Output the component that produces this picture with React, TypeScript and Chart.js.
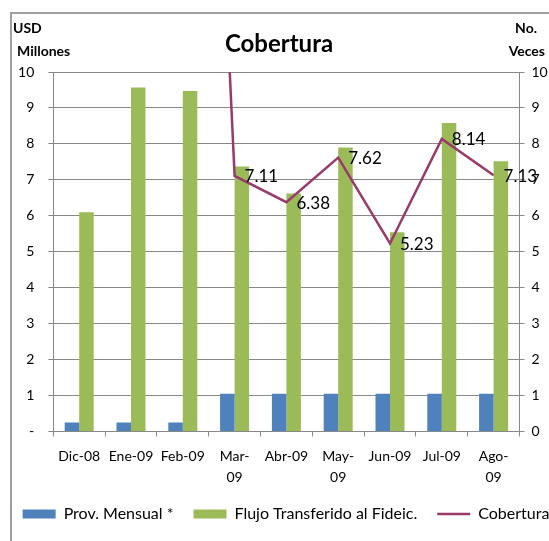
import { useEffect, useRef } from 'react';
import { Chart, registerables } from 'chart.js';
Chart.register(...registerables);

const categories: (string | string[])[] = ['Dic-08', 'Ene-09', 'Feb-09', ['Mar-', '09'], 'Abr-09', ['May-', '09'], 'Jun-09', 'Jul-09', ['Ago-', '09']];
const provMensual = [0.25, 0.25, 0.25, 1.05, 1.05, 1.05, 1.05, 1.05, 1.05];
const flujo = [6.1, 9.57, 9.47, 7.37, 6.62, 7.9, 5.54, 8.58, 7.52];
const cobertura = [24.4, 38.3, 37.9, 7.11, 6.38, 7.62, 5.23, 8.14, 7.13];
const seriesNames = ['Prov. Mensual *', 'Flujo Transferido al Fideic.', 'Cobertura'];
const titleText = 'Cobertura';
const leftAxisTitle = ['USD', 'Millones'];
const rightAxisTitle = ['No.', 'Veces'];

const BLUE = '#4F81BD';
const GREEN = '#9BBB59';
const PLUM = '#993A68';
const GRID = '#888888';
const FONT = 'Lato';

const headerPlugin = {
  id: 'headers',
  afterDraw(chart: any) {
    const ctx = chart.ctx;
    ctx.save();
    ctx.fillStyle = '#000';
    ctx.textBaseline = 'middle';
    ctx.font = `bold 24px ${FONT}`;
    ctx.textAlign = 'center';
    ctx.fillText(titleText, 279, 44);
    ctx.font = `bold 14px ${FONT}`;
    ctx.textAlign = 'left';
    ctx.fillText(leftAxisTitle[0], 13, 28);
    ctx.fillText(leftAxisTitle[1], 17, 51);
    ctx.textAlign = 'right';
    ctx.fillText(rightAxisTitle[0], 537, 28);
    ctx.fillText(rightAxisTitle[1], 545, 51);
    ctx.restore();
  },
};

const labelPlugin = {
  id: 'pointLabels',
  afterDraw(chart: any) {
    const meta = chart.getDatasetMeta(2);
    const yScale = chart.scales.y1;
    const ctx = chart.ctx;
    ctx.save();
    ctx.font = `17px ${FONT}`;
    ctx.fillStyle = '#000';
    ctx.textAlign = 'left';
    ctx.textBaseline = 'middle';
    meta.data.forEach((pt: any, i: number) => {
      const v = cobertura[i];
      if (v > yScale.max) return;
      ctx.fillText(v.toFixed(2), pt.x + 10, pt.y + 1);
    });
    ctx.restore();
  },
};

export default function App() {
  const ref = useRef<HTMLCanvasElement>(null);
  useEffect(() => {
    const canvas = ref.current!;
    const chart = new Chart(canvas, {
      type: 'bar',
      data: {
        labels: categories,
        datasets: [
          { type: 'bar', label: seriesNames[0], data: provMensual, backgroundColor: BLUE, yAxisID: 'y', order: 1, categoryPercentage: 0.56, barPercentage: 1 },
          { type: 'bar', label: seriesNames[1], data: flujo, backgroundColor: GREEN, yAxisID: 'y', order: 1, categoryPercentage: 0.56, barPercentage: 1 },
          { type: 'line', label: seriesNames[2], data: cobertura, borderColor: PLUM, backgroundColor: PLUM, borderWidth: 2.5, pointRadius: 0, tension: 0, yAxisID: 'y1', order: 0 },
        ] as any,
      },
      options: {
        responsive: false,
        animation: false,
        devicePixelRatio: 1,
        layout: { padding: { top: 72, bottom: 9, left: 0, right: 0 } },
        plugins: {
          title: { display: false },
          tooltip: { enabled: false },
          legend: {
            position: 'bottom',
            labels: {
              font: { family: FONT, size: 16 },
              color: '#000',
              usePointStyle: true,
              pointStyleWidth: 33,
              boxHeight: 9,
              padding: 20,
              generateLabels: () => [
                { text: seriesNames[0], fillStyle: BLUE, strokeStyle: BLUE, lineWidth: 0, pointStyle: 'rect', datasetIndex: 0, hidden: false, fontColor: '#000' },
                { text: seriesNames[1], fillStyle: GREEN, strokeStyle: GREEN, lineWidth: 0, pointStyle: 'rect', datasetIndex: 1, hidden: false, fontColor: '#000' },
                { text: seriesNames[2], fillStyle: PLUM, strokeStyle: PLUM, lineWidth: 2.5, pointStyle: 'line', datasetIndex: 2, hidden: false, fontColor: '#000' },
              ] as any,
            },
          },
        },
        scales: {
          x: {
            offset: true,
            grid: { drawOnChartArea: false, drawTicks: true, tickLength: 5, color: GRID, offset: true },
            border: { display: true, color: GRID },
            ticks: { font: { family: FONT, size: 14, lineHeight: 1.5 }, color: '#000', padding: 9, maxRotation: 0, autoSkip: false },
            afterFit: (s: any) => { s.height = 54.5; },
          },
          y: {
            position: 'left',
            min: 0,
            max: 10,
            grid: { color: GRID, tickLength: 5, drawTicks: true },
            border: { display: true, color: GRID },
            ticks: { stepSize: 1, font: { family: FONT, size: 14 }, color: '#000', padding: 14, callback: (v: any) => (v === 0 ? '-' : String(v)) },
            afterFit: (s: any) => { s.width = 53.3; },
          },
          y1: {
            position: 'right',
            min: 0,
            max: 10,
            grid: { drawOnChartArea: false, color: GRID, tickLength: 5, drawTicks: true },
            border: { display: true, color: GRID },
            ticks: { stepSize: 1, font: { family: FONT, size: 14 }, color: '#000', padding: 7 },
            afterFit: (s: any) => { s.width = 52.5; },
          },
        },
      } as any,
      plugins: [headerPlugin, labelPlugin],
    });
    if ((document as any).fonts && (document as any).fonts.ready) {
      (document as any).fonts.ready.then(() => { try { chart.update(); } catch (e) {} });
    }
    return () => chart.destroy();
  }, []);
  return (
    <div style={{ position: 'fixed', left: 0, top: 0, width: 549, height: 541, overflow: 'hidden', background: '#fff' }}>
      <div style={{ position: 'absolute', left: 10, top: 12, width: 700, height: 700, borderLeft: '2px solid #a0a0a0', borderTop: '2px solid #a0a0a0' }} />
      <canvas ref={ref} width={572} height={541} style={{ position: 'absolute', left: 0, top: 0, width: 572, height: 541 }} />
    </div>
  );
}
